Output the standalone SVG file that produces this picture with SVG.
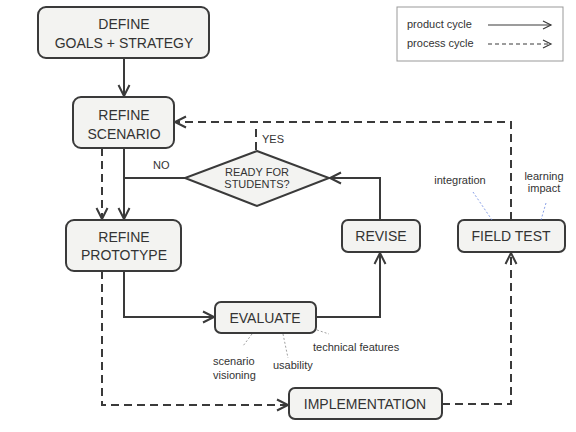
<svg xmlns="http://www.w3.org/2000/svg" width="576" height="432" viewBox="0 0 576 432">
<style>
.box{fill:#f3f3f1;stroke:#3a3a3a;stroke-width:2}
.t{font-family:"Liberation Sans",Arial,sans-serif;fill:#333;text-anchor:middle}
.big{font-size:14px}
.sm{font-size:11px}
.lab{font-family:"Liberation Sans",Arial,sans-serif;fill:#333;font-size:11px}
.c{fill:none;stroke:#3a3a3a;stroke-width:2}
.d{stroke-dasharray:8,5}
.ann{fill:none;stroke:#888;stroke-width:0.8;stroke-dasharray:2,2}
.annb{fill:none;stroke:#6a86e0;stroke-width:0.8;stroke-dasharray:2,2}
</style>
<defs>
<marker id="arr" markerUnits="userSpaceOnUse" markerWidth="14" markerHeight="14" refX="11" refY="6" orient="auto" overflow="visible">
<path d="M0,0.5 L11,6 L0,11.5" fill="none" stroke="#3a3a3a" stroke-width="2"/>
</marker>
<marker id="arrs" markerUnits="userSpaceOnUse" markerWidth="10" markerHeight="10" refX="8" refY="4" orient="auto" overflow="visible">
<path d="M0,0 L8,4 L0,8" fill="none" stroke="#3a3a3a" stroke-width="1.2"/>
</marker>
</defs>
<rect width="576" height="432" fill="#fff"/>

<g id="legend">
<rect x="397" y="7" width="166" height="54" fill="#fff" stroke="#999" stroke-width="1"/>
<text class="lab" x="407" y="28">product cycle</text>
<text class="lab" x="407" y="47">process cycle</text>
<line x1="488" y1="25" x2="551" y2="25" stroke="#3a3a3a" stroke-width="1.2" marker-end="url(#arrs)"/>
<line x1="488" y1="44" x2="551" y2="44" stroke="#3a3a3a" stroke-width="1.2" stroke-dasharray="4,3" marker-end="url(#arrs)"/>
</g>

<g id="connectors">
<path class="c" d="M124,58 L124,96" marker-end="url(#arr)"/>
<path class="c d" d="M511,220 L511,122 L175,122" marker-end="url(#arr)"/>
<path class="c d" d="M256,150 L256,124"/>
<path class="c" d="M124,148 L124,219" marker-end="url(#arr)"/>
<path class="c" d="M185,178 L124,178"/>
<path class="c d" d="M102,148 L102,219" marker-end="url(#arr)"/>
<path class="c" d="M124,271 L124,317 L214,317" marker-end="url(#arr)"/>
<path class="c" d="M316,317 L380,317 L380,253" marker-end="url(#arr)"/>
<path class="c" d="M380,220 L380,178 L330,178" marker-end="url(#arr)"/>
<path class="c d" d="M102,271 L102,405 L288,405" marker-end="url(#arr)"/>
<path class="c d" d="M442,404 L511,404 L511,253" marker-end="url(#arr)"/>
<text class="lab" x="262" y="143">YES</text>
<text class="lab" x="153" y="169">NO</text>
</g>

<g id="define">
<rect class="box" x="38" y="7" width="171" height="51" rx="8"/>
<text class="t big" x="124" y="29">DEFINE</text>
<text class="t big" x="124" y="48">GOALS + STRATEGY</text>
</g>

<g id="refine-scenario">
<rect class="box" x="73" y="97" width="101" height="51" rx="8"/>
<text class="t big" x="124" y="120">REFINE</text>
<text class="t big" x="124" y="139">SCENARIO</text>
</g>

<g id="ready">
<polygon class="box" points="257,151 329,178 257,206 185,178"/>
<text class="t sm" x="257" y="176">READY FOR</text>
<text class="t sm" x="257" y="188">STUDENTS?</text>
</g>

<g id="refine-prototype">
<rect class="box" x="66" y="220" width="115" height="51" rx="8"/>
<text class="t big" x="124" y="242">REFINE</text>
<text class="t big" x="124" y="260">PROTOTYPE</text>
</g>

<g id="revise">
<rect class="box" x="342" y="220" width="78" height="32" rx="6"/>
<text class="t big" x="381" y="241">REVISE</text>
</g>

<g id="field-test">
<rect class="box" x="458" y="220" width="107" height="32" rx="6"/>
<text class="t big" x="511" y="241">FIELD TEST</text>
<text class="t sm" x="460" y="184">integration</text>
<text class="t sm" x="544" y="180">learning</text>
<text class="t sm" x="544" y="192">impact</text>
<line class="annb" x1="473" y1="192" x2="492" y2="220"/>
<line class="annb" x1="546" y1="203" x2="541" y2="220"/>
</g>

<g id="evaluate">
<rect class="box" x="215" y="302" width="101" height="31" rx="6"/>
<text class="t big" x="265" y="323">EVALUATE</text>
<text class="lab" x="213" y="365">scenario</text>
<text class="lab" x="213" y="379">visioning</text>
<text class="lab" x="273" y="369">usability</text>
<text class="lab" x="313" y="351">technical features</text>
<line class="ann" x1="252" y1="334" x2="243" y2="346"/>
<line class="ann" x1="283" y1="334" x2="288" y2="358"/>
<line class="ann" x1="317" y1="330" x2="329" y2="334"/>
</g>

<g id="implementation">
<rect class="box" x="289" y="388" width="153" height="31" rx="6"/>
<text class="t big" x="365" y="409">IMPLEMENTATION</text>
</g>
</svg>
